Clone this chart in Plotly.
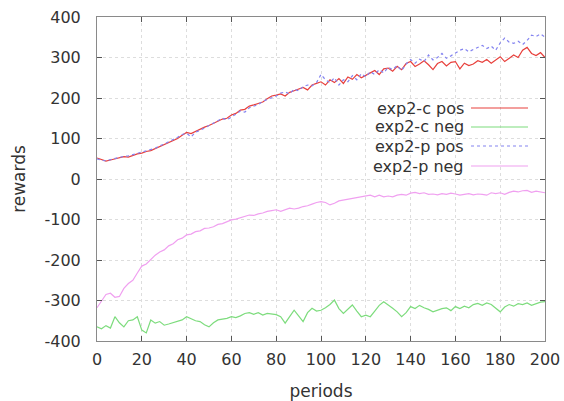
import plotly.graph_objects as go

c_pos = [52, 48, 44, 47, 50, 52, 55, 54, 58, 62, 64,
         68, 70, 75, 80, 84, 90, 95, 100, 108, 115,
         112, 118, 122, 128, 132, 138, 143, 148, 150, 158,
         162, 170, 172, 180, 183, 186, 190, 198, 205, 207,
         210, 205, 214, 218, 222, 226, 220, 232, 236, 240,
         232, 245, 238, 248, 236, 252, 246, 258, 250, 257,
         262, 268, 258, 272, 274, 266, 278, 270, 285, 290,
         278, 284, 292, 282, 270, 285, 290, 279, 288, 290,
         272, 286, 280, 284, 292, 288, 295, 286, 294, 302,
         290, 298, 306, 300, 318, 325, 310, 305, 312, 300]

c_neg = [-365, -370, -362, -368, -340, -355, -365, -350, -348, -340, -373,
         -380, -348, -356, -352, -361, -358, -355, -352, -348, -340,
         -345, -350, -352, -360, -365, -355, -348, -346, -344, -340,
         -342, -338, -332, -330, -334, -330, -336, -332, -334, -335,
         -340, -356, -340, -324, -338, -352, -330, -319, -326, -324,
         -318, -310, -299, -320, -332, -322, -311, -326, -340, -336,
         -340, -326, -312, -303, -310, -319, -328, -340, -330, -315,
         -320, -312, -318, -322, -328, -324, -320, -318, -325, -315,
         -320, -314, -318, -310, -307, -312, -306, -310, -318, -328,
         -316, -310, -314, -308, -310, -306, -312, -307, -304, -303]

p_pos = [50, 46, 45, 48, 51, 54, 56, 57, 60, 63, 66,
         70, 72, 76, 82, 86, 92, 97, 103, 110, 113,
         104, 116, 120, 126, 134, 138, 145, 150, 146, 152,
         160, 168, 165, 176, 180, 184, 192, 196, 200, 205,
         212, 215, 210, 222, 218, 228, 232, 230, 238, 258,
         245, 238, 250, 232, 245, 240, 255, 245, 260, 252,
         265, 258, 270, 262, 276, 270, 280, 268, 284, 295,
         286, 296, 290, 306, 294, 300, 310, 298, 304, 312,
         318, 322, 314, 320, 325, 330, 322, 328, 318, 336,
         348, 338, 335, 340, 332, 342, 355, 352, 358, 350]

p_neg = [-318, -300, -285, -282, -292, -290, -270, -258, -250, -232, -215,
         -210, -198, -188, -180, -175, -165, -160, -150, -146, -138,
         -136, -130, -128, -122, -121, -118, -112, -110, -106, -101,
         -99, -96, -93, -89, -90, -86, -84, -80, -78, -76,
         -80, -75, -72, -74, -72, -68, -66, -62, -58, -56,
         -58, -64, -60, -54, -52, -50, -48, -46, -44, -42,
         -40, -44, -40, -44, -42, -44, -40, -38, -40, -35,
         -33, -36, -34, -38, -37, -39, -36, -38, -35, -37,
         -40, -38, -36, -39, -37, -38, -40, -34, -36, -34,
         -38, -33, -30, -32, -29, -28, -33, -30, -32, -34]

periods = list(range(0, 2 * len(c_pos), 2))

names = ["exp2-c pos", "exp2-c neg", "exp2-p pos", "exp2-p neg"]
colors = ["#e8403c", "#7ddc7d", "#8484f0", "#f0a0f0"]
dashes = ["solid", "solid", "dot", "solid"]
series = [c_pos, c_neg, p_pos, p_neg]

x_ticks = list(range(0, 201, 20))
y_ticks = list(range(-400, 401, 100))
y_tick_text = [str(v) for v in y_ticks]  # plain hyphen minus, as in the original

FONT = "DejaVu Sans"
TXT = "#333333"

fig = go.Figure()
for name, col, dsh, vals in zip(names, colors, dashes, series):
    fig.add_trace(go.Scatter(x=periods, y=vals, mode="lines", name=name,
                             line=dict(color=col, width=1.2, dash=dsh),
                             showlegend=False))

# plot frame geometry in pixels (for converting the custom key)
L, R, T, B = 97, 19, 17, 60
W, H = 564, 401
pw, ph = W - L - R, H - T - B

def px_x(p):
    return (p - L) / pw

def px_y(p):
    return (H - B - p) / ph

# white key box covering grid
fig.add_shape(type="rect", xref="paper", yref="paper",
              x0=px_x(350), x1=1.0, y0=px_y(178), y1=px_y(98),
              fillcolor="white", line=dict(width=0), layer="between")

rows = [108, 127, 146, 166]
for name, col, dsh, r in zip(names, colors, dashes, rows):
    fig.add_annotation(xref="paper", yref="paper", x=px_x(466), y=px_y(r),
                       text=name, showarrow=False, xanchor="right",
                       yanchor="middle", font=dict(family=FONT, size=16, color=TXT))
    fig.add_shape(type="line", xref="paper", yref="paper",
                  x0=px_x(471), x1=px_x(528), y0=px_y(r), y1=px_y(r),
                  line=dict(color=col, width=1.2, dash=dsh))

axis_common = dict(showline=True, linecolor="#8a8a8a", linewidth=1, mirror="ticks",
                   ticks="inside", ticklen=5, tickcolor="#555555", automargin=False,
                   showgrid=True, gridcolor="#dddddd", griddash="dot", gridwidth=1,
                   zeroline=False, tickfont=dict(family=FONT, size=16, color=TXT))

fig.update_layout(
    width=W, height=H,
    margin=dict(l=L, r=R, t=T, b=B),
    paper_bgcolor="white", plot_bgcolor="white",
    xaxis=dict(range=[0, 200], tickvals=x_ticks, ticklabelstandoff=4,
               title=dict(text="periods", font=dict(family=FONT, size=17, color=TXT), standoff=20),
               **axis_common),
    yaxis=dict(range=[-400, 400], tickvals=y_ticks, ticktext=y_tick_text,
               ticklabelstandoff=12,
               title=dict(text="rewards", font=dict(family=FONT, size=17, color=TXT), standoff=14),
               **axis_common),
)

fig.write_html("out.html", config={"displayModeBar": False},
               post_script="document.body.style.margin='0';")
